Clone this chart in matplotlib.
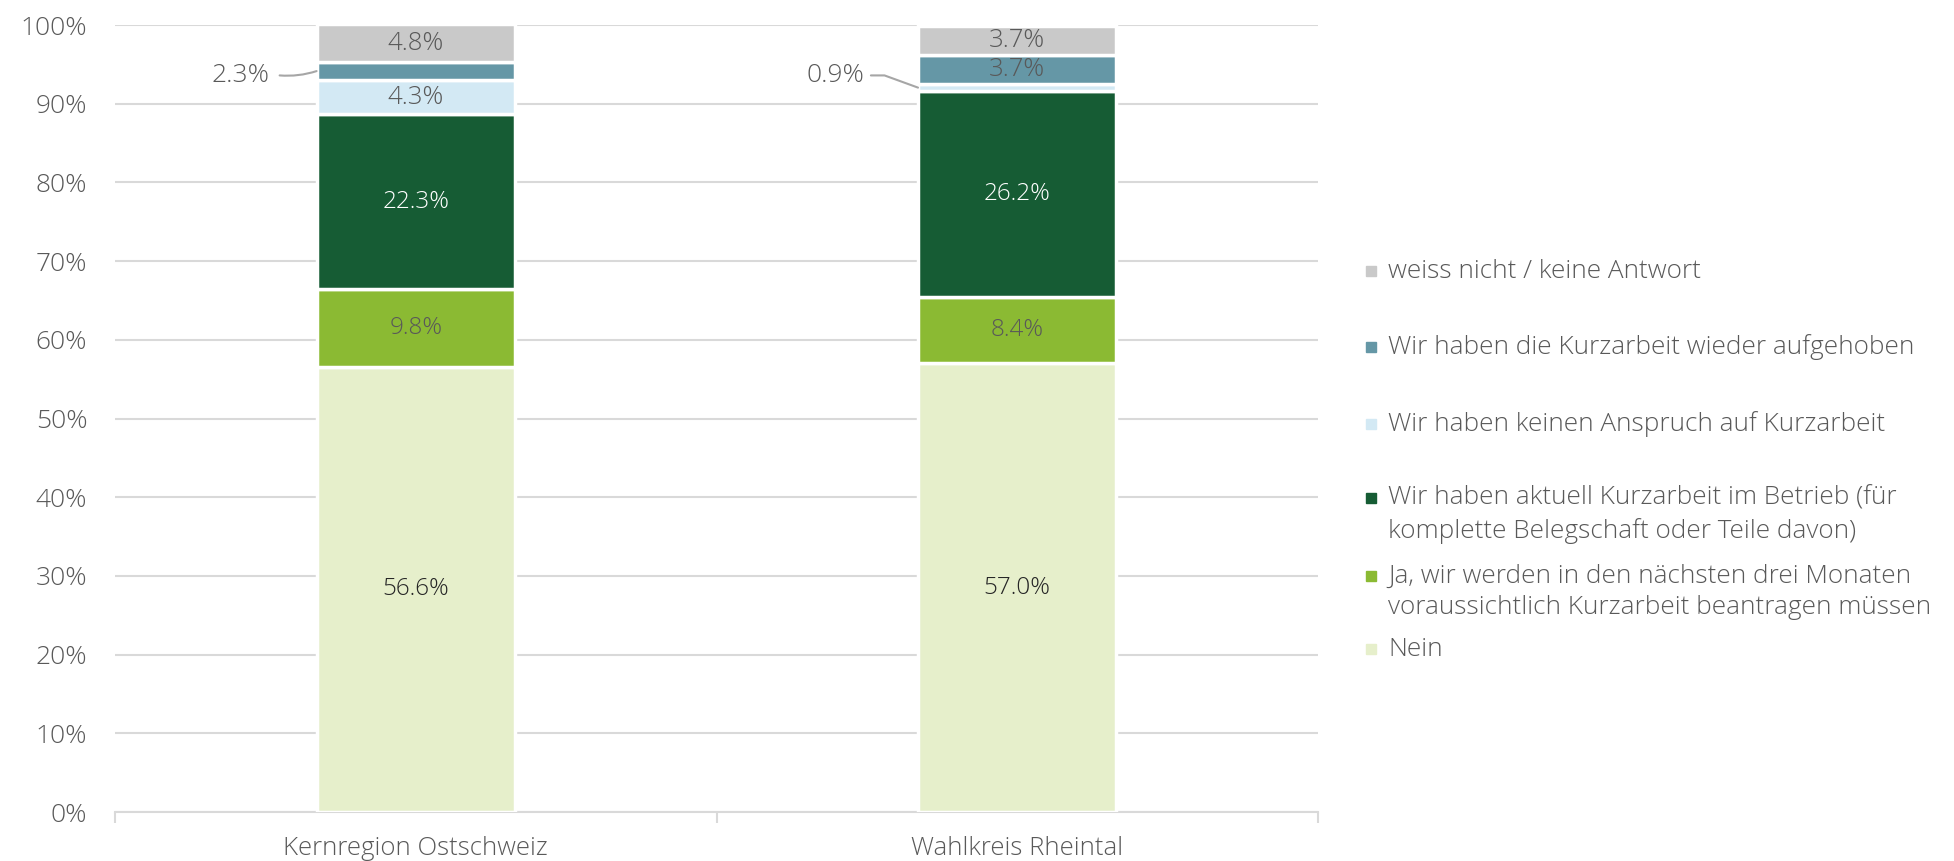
import matplotlib
matplotlib.use('Agg')
import matplotlib.pyplot as plt
from matplotlib.patches import Rectangle
import numpy as np

plt.rcParams['font.family'] = ['Open Sans', 'DejaVu Sans']

# data
regions = ['Kernregion Ostschweiz', 'Wahlkreis Rheintal']
series = [
    'Nein',
    'Ja, wir werden in den nächsten drei Monaten\nvoraussichtlich Kurzarbeit beantragen müssen',
    'Wir haben aktuell Kurzarbeit im Betrieb (für\nkomplette Belegschaft oder Teile davon)',
    'Wir haben keinen Anspruch auf Kurzarbeit',
    'Wir haben die Kurzarbeit wieder aufgehoben',
    'weiss nicht / keine Antwort',
]
nein = [56.6, 57.0]
ja = [9.8, 8.4]
aktuell = [22.3, 26.2]
kein_anspruch = [4.3, 0.9]
aufgehoben = [2.3, 3.7]
weiss_nicht = [4.8, 3.7]
values = [nein, ja, aktuell, kein_anspruch, aufgehoben, weiss_nicht]

colors = ['#E6EFCB', '#8BBA33', '#165C34', '#D3E9F4', '#6597A6', '#C9C9C9']
label_colors = ['#262626', '#595959', 'white', '#595959', '#595959', '#595959']
grey = '#595959'
fw = 'light'

fig = plt.figure(figsize=(19.54, 8.61), dpi=100)
ax = fig.add_axes([0.0589, 0.0569, 0.6156, 0.9140])

x = np.arange(len(regions))
bottom = np.zeros(len(regions))
for vals, col, lcol in zip(values, colors, label_colors):
    ax.bar(x, vals, 0.33, bottom=bottom, color=col, edgecolor='white', linewidth=2.5, zorder=3)
    for i, v in enumerate(vals):
        if v >= 2.5:
            fs = 18.5 if lcol == '#595959' and v < 6 else 17.5
            ax.text(x[i], bottom[i] + v / 2, f'{v:.1f}%', ha='center', va='center',
                    fontsize=fs, color=lcol, zorder=4, fontweight=fw)
    bottom += np.array(vals)

# outside labels for the thin segments
base_k = nein[0] + ja[0] + aktuell[0] + kein_anspruch[0]
ax.annotate(f'{aufgehoben[0]:.1f}%', xy=(x[0] - 0.165, base_k + aufgehoben[0] / 2),
            xytext=(x[0] - 0.292, 93.6), ha='center', va='center', fontsize=19, color=grey,
            fontweight=fw,
            arrowprops=dict(arrowstyle='-', color='#A6A6A6', lw=1.5, shrinkA=0, shrinkB=0,
                            relpos=(1.18, 0.5), connectionstyle='arc3,rad=0.1'))
base_r = nein[1] + ja[1] + aktuell[1]
ax.annotate(f'{kein_anspruch[1]:.1f}%', xy=(x[1] - 0.165, base_r + kein_anspruch[1] / 2),
            xytext=(x[1] - 0.303, 93.6), ha='center', va='center', fontsize=19, color=grey,
            fontweight=fw,
            arrowprops=dict(arrowstyle='-', color='#A6A6A6', lw=1.5, shrinkA=0, shrinkB=0,
                            relpos=(1.12, 0.5),
                            connectionstyle='angle,angleA=0,angleB=160,rad=0'))

ax.set_xlim(-0.5, 1.5)
ax.set_ylim(0, 100)
ax.set_yticks(np.arange(0, 101, 10))
ax.set_yticklabels([f'{t}%' for t in range(0, 101, 10)], fontsize=19, color=grey, fontweight=fw)
ax.yaxis.grid(True, color='#D9D9D9', linewidth=1.5, zorder=0)
ax.tick_params(axis='y', length=0, pad=20)

ax.set_xticks(x)
ax.set_xticklabels(regions, fontsize=18.5, color=grey, fontweight=fw)
ax.set_xticks([-0.5, 0.5, 1.5], minor=True)
ax.tick_params(axis='x', which='major', length=0, pad=17)
ax.tick_params(axis='x', which='minor', length=8, color='#D9D9D9', width=1.5)

for s in ['top', 'right', 'left']:
    ax.spines[s].set_visible(False)
ax.spines['bottom'].set_color('#D9D9D9')
ax.spines['bottom'].set_linewidth(1.5)

# legend, drawn Excel-style from top to bottom: pixel row of each line
leg_rows = [[271], [347], [424], [498, 531], [576, 608], [649]]
order = list(range(len(series)))[::-1]
for rows, idx in zip(leg_rows, order):
    fy = 1 - rows[0] / 861
    fig.patches.append(Rectangle((1366 / 1954, fy - 5 / 861), 10 / 1954, 10 / 861,
                                 transform=fig.transFigure, color=colors[idx]))
    for yy, line in zip(rows, series[idx].split('\n')):
        fig.text(1388 / 1954, 1 - yy / 861, line, fontsize=18.8, color=grey, va='center',
                 fontweight=fw)

fig.savefig('out.png', dpi=100)
